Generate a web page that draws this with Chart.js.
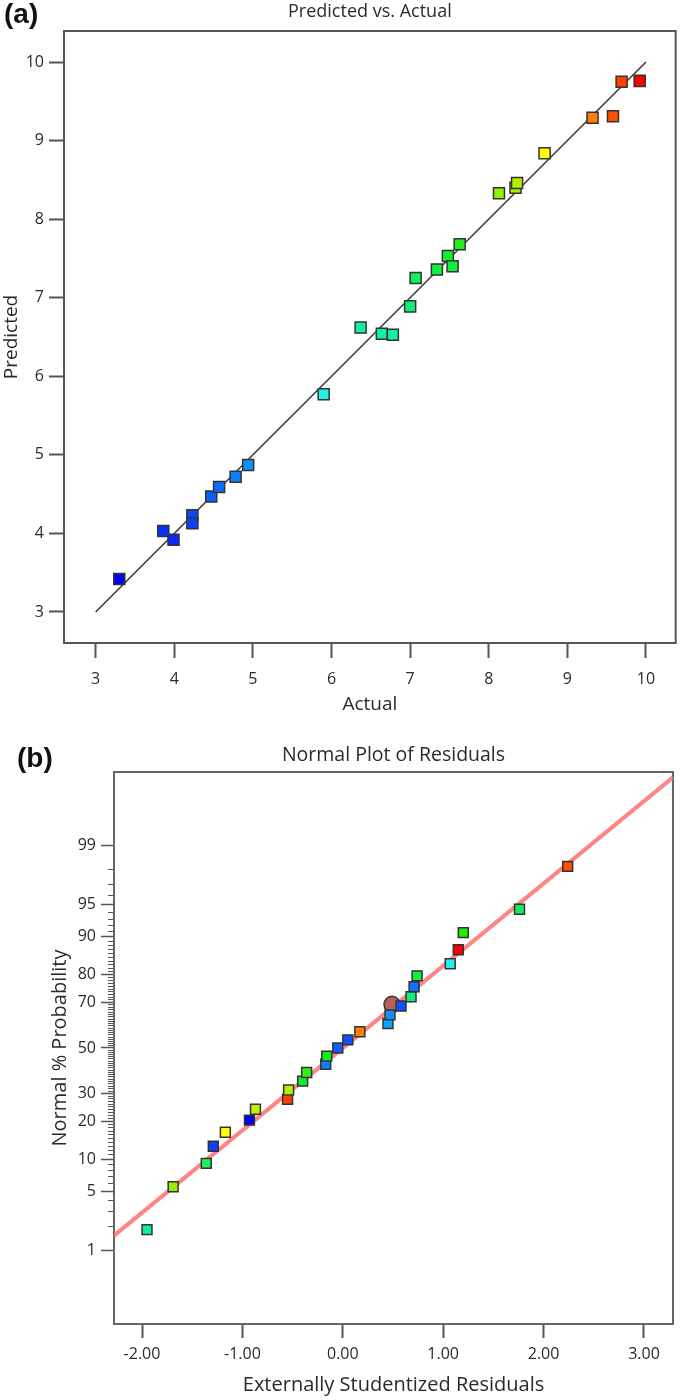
<!DOCTYPE html>
<html>
<head>
<meta charset="utf-8">
<script src="https://cdn.jsdelivr.net/npm/chart.js@4.4.1/dist/chart.umd.min.js"></script>
<style>
html,body{margin:0;padding:0;background:#fff;}
#wrap{position:relative;width:685px;height:1400px;overflow:hidden;}
.panel{position:absolute;left:0;width:685px;}
.panel canvas{display:block;}
.tag{position:absolute;font-family:"Liberation Sans",Arial,sans-serif;font-weight:bold;font-size:28px;color:#111;}
</style>
</head>
<body>
<div id="wrap">
  <div class="panel" style="top:0;height:720px"><canvas id="chartA" width="685" height="720"></canvas></div>
  <div class="panel" style="top:720px;height:680px"><canvas id="chartB" width="685" height="680"></canvas></div>
  <div class="tag" style="left:4px;top:-2px">(a)</div>
  <div class="tag" style="left:17px;top:742px">(b)</div>
</div>
<script>
// ---------------- Panel (a): Predicted vs. Actual ----------------
const actualValues    = [3.30, 3.86, 3.99, 4.23, 4.23, 4.47, 4.57, 4.78, 4.94, 5.90, 6.37, 6.64, 6.78, 7.00, 7.07, 7.34, 7.48, 7.54, 7.63, 8.13, 8.34, 8.36, 8.71, 9.32, 9.58, 9.69, 9.92];
const predictedValues = [3.42, 4.03, 3.92, 4.23, 4.13, 4.47, 4.59, 4.72, 4.87, 5.77, 6.62, 6.54, 6.53, 6.89, 7.25, 7.36, 7.53, 7.40, 7.68, 8.33, 8.40, 8.46, 8.84, 9.29, 9.31, 9.75, 9.76];
const pointColorsA = ['#0000ff','#0a30ff','#0a28ff','#0a48ff','#0a40ff','#0a60ff','#0a6cff','#0a80ff','#0a90ff','#20f0e8',
                      '#10f0a8','#10f0a0','#10f0a0','#10f080','#10f060','#10f040','#10f030','#10f040','#20f020','#90f000',
                      '#a0f000','#b0f000','#ffff00','#ff8000','#ff5000','#ff4000','#ff0000'];
const refLineActual    = [3, 10];
const refLinePredicted = [3, 10];
const xTicksA = [3, 4, 5, 6, 7, 8, 9, 10];
const yTicksA = [3, 4, 5, 6, 7, 8, 9, 10];

// ---------------- Panel (b): Normal Plot of Residuals ----------------
const residuals  = [-1.95, -1.69, -1.36, -1.29, -1.17, -0.93, -0.87, -0.55, -0.54, -0.40, -0.36, -0.17, -0.16, -0.05, 0.05, 0.17, 0.45, 0.47, 0.58, 0.68, 0.71, 0.74, 1.07, 1.15, 1.20, 1.76, 2.24];
const normalProb = [1.85, 5.56, 9.26, 12.96, 16.67, 20.37, 24.07, 27.78, 31.48, 35.19, 38.89, 42.59, 46.30, 50.00, 53.70, 57.41, 61.11, 64.81, 68.52, 72.22, 75.93, 79.63, 83.33, 87.04, 90.74, 94.44, 98.15];
const pointColorsB = ['#10f0a0','#90f000','#20f060','#1040ff','#ffff00','#0000ff','#c0f000','#ff4000','#b0f000','#10f030',
                      '#30f010','#1080ff','#10f020','#1060ff','#1050ff','#ff8000','#10a0ff','#1090ff','#1050ff','#10f080',
                      '#1070ff','#10f040','#20f0f0','#ff0000','#20f000','#10f060','#ff5000'];
const highlightResidual = [0.49];
const highlightProb     = [69.2];
const fitLineResidual = [-2.279, 3.289];
const fitLineProb     = [1.56, 99.906];
const xTicksB = [-2, -1, 0, 1, 2, 3];
const probMajorTicks = [1, 5, 10, 20, 30, 50, 70, 80, 90, 95, 99];
const probMinorTicks = [];
for (let p = 2; p <= 98; p++) { if (!probMajorTicks.includes(p)) probMinorTicks.push(p); }

// ---------------- helpers ----------------
function probit(p) {
  const a = [-3.969683028665376e+01, 2.209460984245205e+02, -2.759285104469687e+02, 1.383577518672690e+02, -3.066479806614716e+01, 2.506628277459239e+00];
  const b = [-5.447609879822406e+01, 1.615858368580409e+02, -1.556989798598866e+02, 6.680131188771972e+01, -1.328068155288572e+01];
  const c = [-7.784894002430293e-03, -3.223964580411365e-01, -2.400758277161838e+00, -2.549732539343734e+00, 4.374664141464968e+00, 2.938163982698783e+00];
  const d = [7.784695709041462e-03, 3.224671290700398e-01, 2.445134137142996e+00, 3.754408661907416e+00];
  const pl = 0.02425, ph = 1 - pl;
  let q, r;
  if (p < pl) {
    q = Math.sqrt(-2 * Math.log(p));
    return (((((c[0]*q+c[1])*q+c[2])*q+c[3])*q+c[4])*q+c[5]) / ((((d[0]*q+d[1])*q+d[2])*q+d[3])*q+1);
  }
  if (p <= ph) {
    q = p - 0.5; r = q * q;
    return (((((a[0]*r+a[1])*r+a[2])*r+a[3])*r+a[4])*r+a[5])*q / (((((b[0]*r+b[1])*r+b[2])*r+b[3])*r+b[4])*r+1);
  }
  q = Math.sqrt(-2 * Math.log(1 - p));
  return -(((((c[0]*q+c[1])*q+c[2])*q+c[3])*q+c[4])*q+c[5]) / ((((d[0]*q+d[1])*q+d[2])*q+d[3])*q+1);
}
function normCdf(z) {
  const t = 1 / (1 + 0.2316419 * Math.abs(z));
  const dd = 0.3989423 * Math.exp(-z * z / 2);
  let p = dd * t * (0.3193815 + t * (-0.3565638 + t * (1.781478 + t * (-1.821256 + t * 1.330274))));
  return z > 0 ? 1 - p : p;
}

class ProbitScale extends Chart.Scale {
  determineDataLimits() {
    this.min = this.options.min;
    this.max = this.options.max;
  }
  buildTicks() { return []; }
  configure() {
    super.configure();
    this._zStart = probit(this.min / 100);
    this._zRange = probit(this.max / 100) - this._zStart;
  }
  getPixelForValue(v) {
    return this.getPixelForDecimal((probit(v / 100) - this._zStart) / this._zRange);
  }
  getValueForPixel(px) {
    return 100 * normCdf(this._zStart + this.getDecimalForPixel(px) * this._zRange);
  }
  getLabelForValue(v) { return String(v); }
}
ProbitScale.id = 'probit';
ProbitScale.defaults = {};
Chart.register(ProbitScale);

const framePlugin = {
  id: 'frame',
  beforeDatasetsDraw(chart, args, opts) {
    const {left, top, right, bottom} = chart.chartArea;
    const ctx = chart.ctx;
    ctx.save();
    ctx.strokeStyle = opts.color;
    ctx.lineWidth = opts.width;
    ctx.strokeRect(left, top, right - left, bottom - top);
    ctx.restore();
  }
};

Chart.defaults.font.family = "'Open Sans', 'Noto Sans', sans-serif";
Chart.defaults.color = '#2a2a2a';

const tickFont = {size: 16, lineHeight: '19px'};
const titleFont = {size: 19, lineHeight: '22px'};
const titleFontB = {size: 20, lineHeight: '22px'};
const headFont = {size: 18, lineHeight: '22px', weight: 'normal'};
const headFontB = {size: 19.5, lineHeight: '22px', weight: 'normal'};
const txt = '#2a2a2a';
const setTicks = (arr) => (s) => { s.ticks = arr.map(v => ({value: v})); };

// ---------------- Chart (a) ----------------
new Chart(document.getElementById('chartA'), {
  type: 'scatter',
  data: {
    datasets: [
      {
        data: refLineActual.map((x, i) => ({x: x, y: refLinePredicted[i]})),
        showLine: true, borderColor: '#3c3c3c', borderWidth: 1.6,
        pointRadius: 0, order: 2
      },
      {
        data: actualValues.map((x, i) => ({x: x, y: predictedValues[i]})),
        pointStyle: 'rect', pointRadius: 7.8,
        backgroundColor: pointColorsA, borderColor: '#333', borderWidth: 1.5,
        order: 1
      }
    ]
  },
  options: {
    responsive: false, animation: false, events: [],
    layout: {padding: {left: 0, right: 3, top: 0, bottom: 0}},
    plugins: {
      legend: {display: false}, tooltip: {enabled: false},
      title: {display: true, text: 'Predicted vs. Actual', fullSize: false,
              font: headFont, color: txt, padding: {top: 1, bottom: 8}},
      frame: {color: '#555', width: 2}
    },
    scales: {
      x: {
        type: 'linear', min: 2.597, max: 10.378, bounds: 'data',
        afterBuildTicks: setTicks(xTicksA),
        afterFit: (s) => { s.height = 77; },
        grid: {display: true, drawOnChartArea: false, drawTicks: true, tickLength: 15, tickColor: '#555', tickWidth: 2},
        border: {display: false},
        ticks: {font: tickFont, color: txt, padding: 12, autoSkip: false, maxRotation: 0, callback: (v) => String(v)},
        title: {display: true, text: 'Actual', font: titleFont, color: txt, padding: {top: 0, bottom: 4}}
      },
      y: {
        type: 'linear', min: 2.605, max: 10.395, bounds: 'data',
        afterBuildTicks: setTicks(yTicksA),
        afterFit: (s) => { s.width = 64; },
        grid: {display: true, drawOnChartArea: false, drawTicks: true, tickLength: 15, tickColor: '#555', tickWidth: 2},
        border: {display: false},
        ticks: {font: tickFont, color: txt, padding: 5, autoSkip: false, callback: (v) => String(v)},
        title: {display: true, text: 'Predicted', font: titleFont, color: txt, padding: {top: 1, bottom: 0}}
      }
    }
  },
  plugins: [framePlugin]
});

// ---------------- Chart (b) ----------------
new Chart(document.getElementById('chartB'), {
  type: 'scatter',
  data: {
    datasets: [
      {
        data: fitLineResidual.map((x, i) => ({x: x, y: fitLineProb[i]})),
        showLine: true, borderColor: 'rgba(255,110,110,0.85)', borderWidth: 4,
        pointRadius: 0, order: 3
      },
      {
        data: highlightResidual.map((x, i) => ({x: x, y: highlightProb[i]})),
        pointStyle: 'circle', pointRadius: 8,
        backgroundColor: '#b55f5a', borderColor: '#333', borderWidth: 1.5,
        order: 2
      },
      {
        data: residuals.map((x, i) => ({x: x, y: normalProb[i]})),
        pointStyle: 'rect', pointRadius: 7,
        backgroundColor: pointColorsB, borderColor: '#333', borderWidth: 1.5,
        order: 1
      }
    ]
  },
  options: {
    responsive: false, animation: false, events: [],
    layout: {padding: {left: 0, right: 12, top: 0, bottom: 0}},
    plugins: {
      legend: {display: false}, tooltip: {enabled: false},
      title: {display: true, text: 'Normal Plot of Residuals', fullSize: false, align: 'center',
              font: headFontB, color: txt, padding: {top: 24, bottom: 6}},
      frame: {color: '#666', width: 2}
    },
    scales: {
      x: {
        type: 'linear', min: -2.279, max: 3.289, bounds: 'data',
        afterBuildTicks: setTicks(xTicksB),
        afterFit: (s) => { s.height = 76; },
        grid: {display: true, drawOnChartArea: false, drawTicks: true, tickLength: 14, tickColor: '#555', tickWidth: 2},
        border: {display: false},
        ticks: {font: tickFont, color: txt, padding: 7, autoSkip: false, maxRotation: 0, callback: (v) => Number(v).toFixed(2)},
        title: {display: true, text: 'Externally Studentized Residuals', font: titleFontB, color: txt, padding: {top: 0, bottom: 4}}
      },
      y: {
        type: 'probit', position: 'left', weight: 10, min: 0.0762, max: 99.9238,
        afterBuildTicks: setTicks(probMajorTicks),
        afterFit: (s) => { s.width = 114; },
        grid: {display: true, drawOnChartArea: false, drawTicks: true, tickLength: 13, tickColor: '#555', tickWidth: 1.5},
        border: {display: false},
        ticks: {font: tickFont, color: txt, padding: 5, autoSkip: false, callback: (v) => String(v)},
        title: {display: true, text: 'Normal % Probability', font: titleFontB, color: txt, padding: {top: 49, bottom: 0}}
      },
      yMinor: {
        type: 'probit', position: 'left', weight: 0, min: 0.0762, max: 99.9238,
        afterBuildTicks: setTicks(probMinorTicks),
        afterFit: (s) => { s.width = 0; },
        grid: {display: true, drawOnChartArea: false, drawTicks: true, tickLength: 6, tickColor: '#555', tickWidth: 1},
        border: {display: false},
        ticks: {display: false},
        title: {display: false}
      }
    }
  },
  plugins: [framePlugin]
});
</script>
</body>
</html>
